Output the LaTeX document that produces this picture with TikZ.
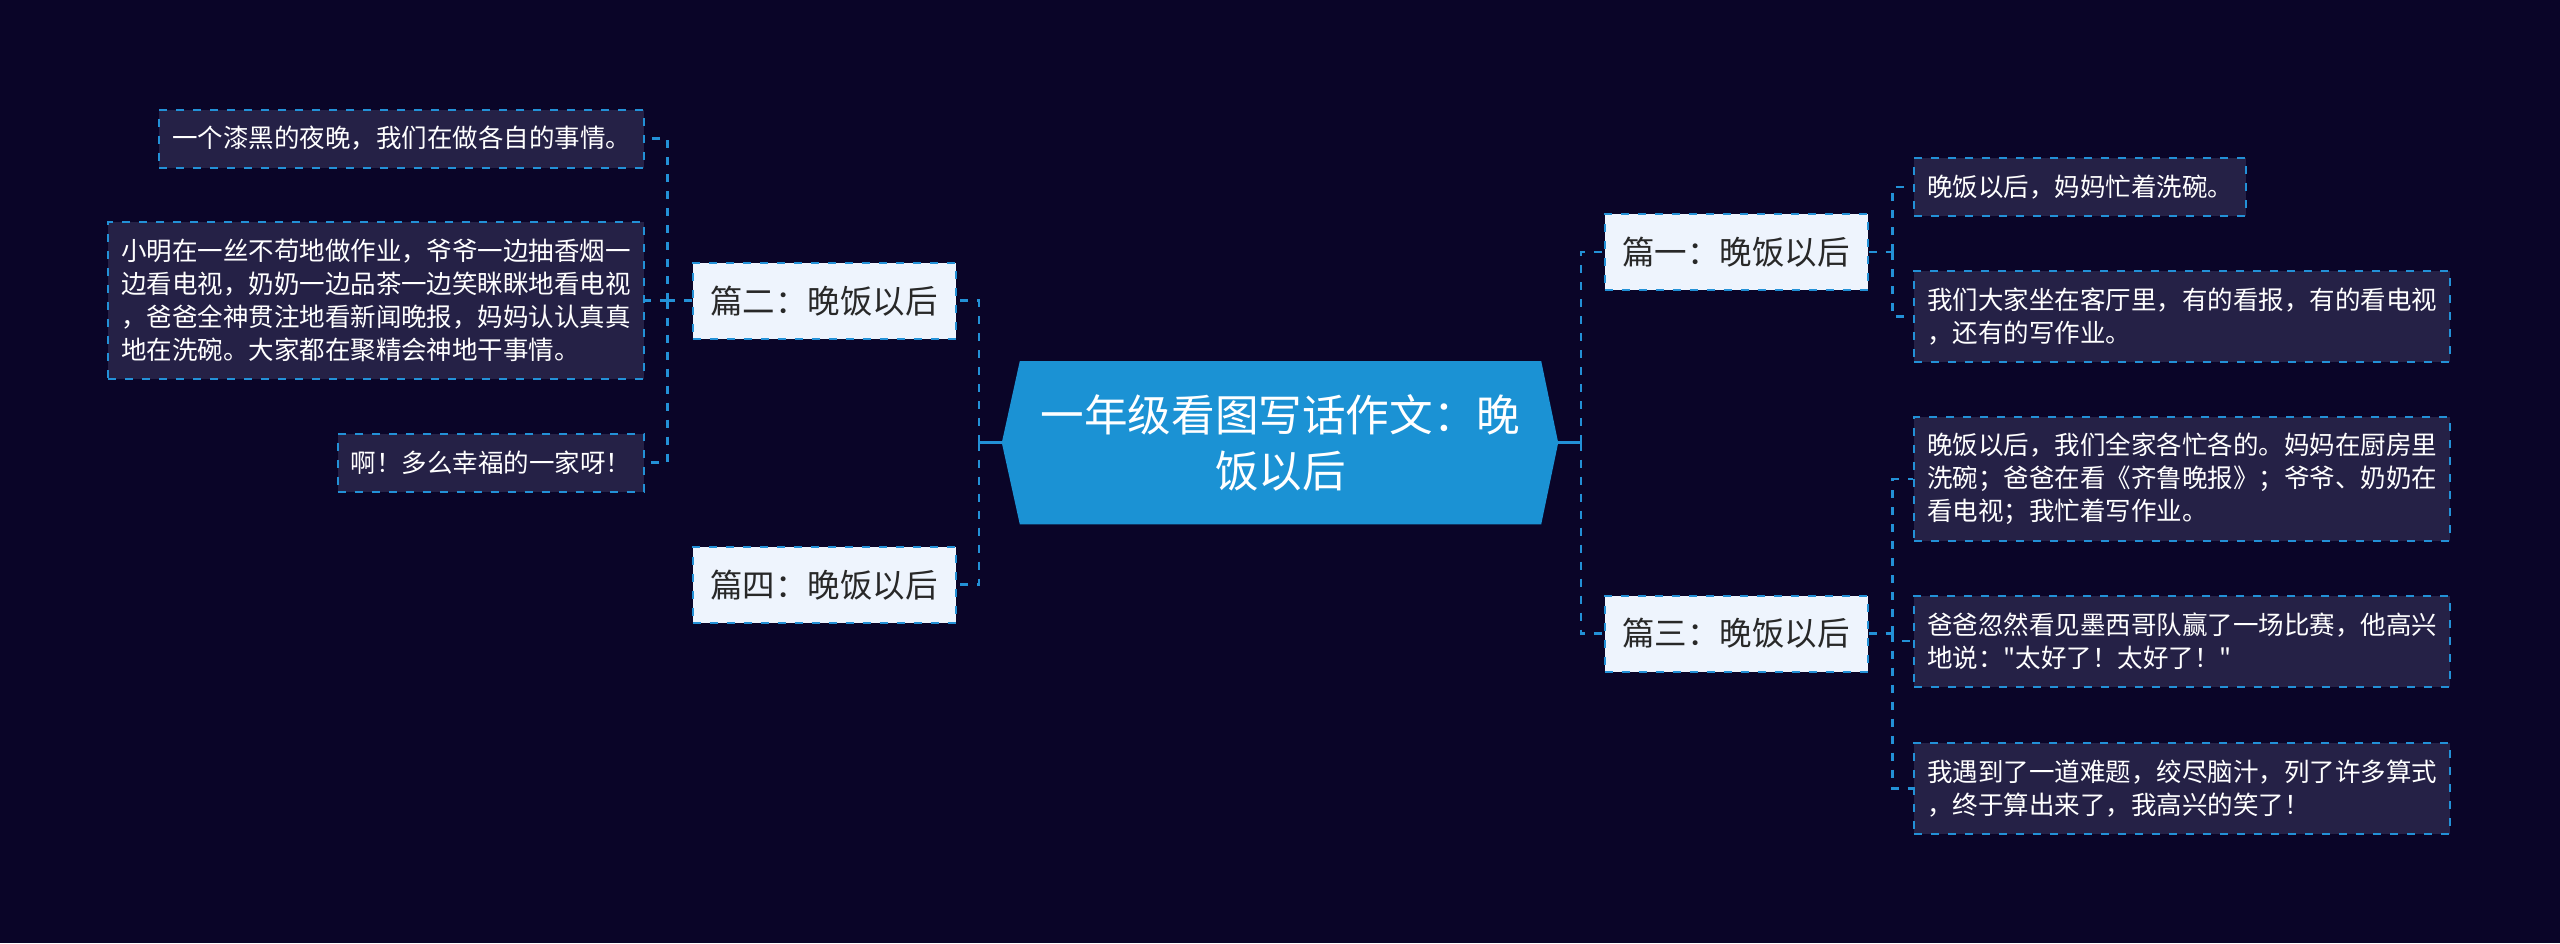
\documentclass[tikz,border=0pt]{standalone}
\usepackage{fontspec}
\newfontfamily\cjk{Noto Sans CJK SC}
\usetikzlibrary{backgrounds}
\definecolor{bgc}{RGB}{10,5,40}
\definecolor{leaffill}{RGB}{37,33,70}
\definecolor{linec}{RGB}{35,145,215}
\definecolor{centerfill}{RGB}{27,146,212}
\definecolor{topicfill}{RGB}{238,244,253}
\definecolor{topictext}{RGB}{40,40,40}
\tikzset{
  leaf/.style={draw=linec, line width=2pt, dash pattern=on 8pt off 9pt, fill=leaffill,
    text=white, font=\cjk\fontsize{25.5}{33}\selectfont, align=left,
    inner xsep=13pt, inner ysep=0pt},
  topic/.style={draw=linec, line width=2pt, dash pattern=on 8pt off 9pt, fill=topicfill,
    text=topictext, font=\cjk\fontsize{32.5}{40}\selectfont,
    minimum width=263pt, minimum height=76pt, inner sep=0pt},
  centre/.style={text=white, font=\cjk\fontsize{43.6}{56}\selectfont, align=center,
    minimum width=521pt, minimum height=163pt, inner sep=0pt},
  conn/.style={draw=linec, line width=2.5pt, dash pattern=on 8pt off 9pt},
  solidconn/.style={draw=linec, line width=2.5pt}
}
\begin{document}
\begin{tikzpicture}[x=1pt,y=-1pt]
\useasboundingbox (0,0) rectangle (2560,943);
\begin{scope}[on background layer]
\fill[bgc] (0,0) rectangle (2560,943);
\end{scope}

% central node
\node[centre] (c) at (1280.5,442.7) {一年级看图写话作文：晚\\饭以后};
\begin{scope}[on background layer]
\fill[centerfill] (c.north west) -- (c.north east) -- ([xshift=17pt]c.east)
  -- (c.south east) -- (c.south west) -- ([xshift=-18pt]c.west) -- cycle;
\end{scope}
\coordinate (cL) at ([xshift=-18pt]c.west);
\coordinate (cR) at ([xshift=17pt]c.east);

% topics
\node[topic] (p1) at (1736,252) {篇一：晚饭以后};
\node[topic] (p2) at (824,300.7) {篇二：晚饭以后};
\node[topic] (p3) at (1736,633.5) {篇三：晚饭以后};
\node[topic] (p4) at (824,584.7) {篇四：晚饭以后};

% left leaves
\node[leaf, anchor=east, minimum height=58pt] (l1) at (645,138.5) {一个漆黑的夜晚，我们在做各自的事情。};
\node[leaf, anchor=east, minimum height=157pt] (l2) at (645,300.7) {小明在一丝不苟地做作业，爷爷一边抽香烟一\\边看电视，奶奶一边品茶一边笑眯眯地看电视\\，爸爸全神贯注地看新闻晚报，妈妈认认真真\\地在洗碗。大家都在聚精会神地干事情。};
\node[leaf, anchor=east, minimum height=58pt] (l3) at (645,462.5) {啊！多么幸福的一家呀！};

% right leaves
\node[leaf, anchor=west, minimum height=58pt] (r1) at (1913,187) {晚饭以后，妈妈忙着洗碗。};
\node[leaf, anchor=west, minimum height=91pt] (r2) at (1913,316.7) {我们大家坐在客厅里，有的看报，有的看电视\\，还有的写作业。};
\node[leaf, anchor=west, minimum height=124pt] (r3) at (1913,479) {晚饭以后，我们全家各忙各的。妈妈在厨房里\\洗碗；爸爸在看《齐鲁晚报》；爷爷、奶奶在\\看电视；我忙着写作业。};
\node[leaf, anchor=west, minimum height=91pt] (r4) at (1913,641) {爸爸忽然看见墨西哥队赢了一场比赛，他高兴\\地说："太好了！太好了！"};
\node[leaf, anchor=west, minimum height=91pt] (r5) at (1913,788.5) {我遇到了一道难题，绞尽脑汁，列了许多算式\\，终于算出来了，我高兴的笑了！};

% junctions
\coordinate (jL) at (979,442.7);
\coordinate (jR) at (1581,442.7);
\coordinate (k1) at ([xshift=24pt]p1.east);
\coordinate (k3) at ([xshift=24pt]p3.east);
\coordinate (k2) at ([xshift=-24pt]p2.west);

% central connectors
\draw[solidconn] (cL) -- (jL);
\draw[solidconn] (cR) -- (jR);
\draw[conn] (jL) |- (p2.east);
\draw[conn] (jL) |- (p4.east);
\draw[conn] (jR) |- (p1.west);
\draw[conn] (jR) |- (p3.west);

% topic to leaves
\draw[conn] (p1.east) -- (k1);
\draw[conn] (k1) |- (r1.west);
\draw[conn] (k1) |- (r2.west);
\draw[conn] (p3.east) -- (k3);
\draw[conn] (k3) |- (r3.west);
\draw[conn] (k3) |- (r4.west);
\draw[conn] (k3) |- (r5.west);
\draw[conn] (p2.west) -- (k2);
\draw[conn] (k2) |- (l1.east);
\draw[conn] (k2) |- (l2.east);
\draw[conn] (k2) |- (l3.east);
\end{tikzpicture}
\end{document}
